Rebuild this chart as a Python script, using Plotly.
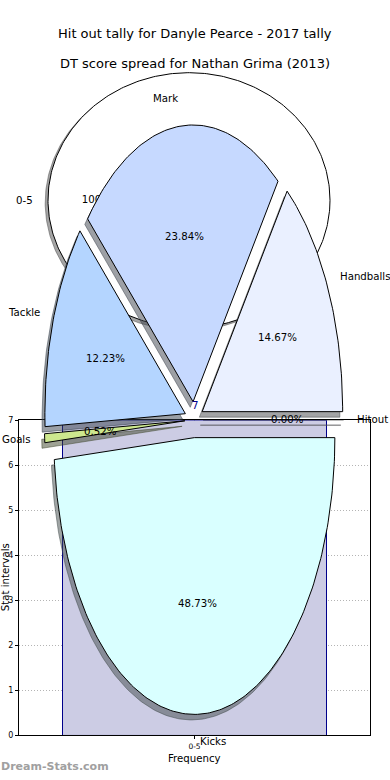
import numpy as np
import plotly.graph_objects as go

W, H = 390, 780

# ---------------- data ----------------
bar_categories = ["0-5"]
bar_values = [7]
y_ticks = [0, 1, 2, 3, 4, 5, 6, 7]

pie_labels = ["Handballs", "Mark", "Tackle", "Goals", "Kicks", "Hitout"]
pie_values = [14.67, 23.84, 12.23, 0.52, 48.73, 0.00]
pie_colors = ["#eaf0ff", "#c6d9ff", "#b4d5ff", "#cde88e", "#d9ffff", "#f0f0ff"]

inner_labels = ["0-5"]
inner_values = [100]
inner_colors = ["#ffffff"]

title_top = "Hit out tally for Danyle Pearce - 2017 tally"
title_sub = "DT score spread for Nathan Grima (2013)"

# ---------------- style ----------------
FONT = "DejaVu Sans"
LBL = 10.2
EXPLODE = 0.065
SHADOW_OFF = (-0.02, -0.02)
LABEL_DIST = 1.1
PCT_DIST = 0.6


def px_x(p):
    return p / W


def px_y(p):
    return 1 - p / H


def wedge_path(cx, cy, t1, t2):
    n = max(3, int(abs(t2 - t1) / 1.0) + 2)
    t = np.radians(np.linspace(t1, t2, n))
    if abs((t2 - t1) - 360) < 1e-9:
        return list(cx + np.cos(t)), list(cy + np.sin(t))
    xs = [cx] + list(cx + np.cos(t)) + [cx]
    ys = [cy] + list(cy + np.sin(t)) + [cy]
    return xs, ys


def shade(hexcol):
    h = hexcol.lstrip("#")
    r, g, b = (int(h[i:i + 2], 16) for i in (0, 2, 4))
    return "rgba(%d,%d,%d,0.5)" % (r * 0.3, g * 0.3, b * 0.3)


fig = go.Figure()
annotations = []

# ---------------- bar chart (xy) ----------------
fig.add_trace(go.Bar(
    x=[0], y=bar_values, width=0.8,
    marker=dict(color="#ccccE4", line=dict(color="#00008B", width=1)),
    xaxis="x", yaxis="y", showlegend=False, hoverinfo="skip",
))
annotations.append(dict(
    x=0, y=bar_values[0], xref="x", yref="y", text=str(bar_values[0]),
    showarrow=False, yanchor="bottom", yshift=8, borderpad=0,
    font=dict(family=FONT, size=LBL, color="#00008B"),
))

# ---------------- inner white pie (x2y2) ----------------
tot_in = sum(inner_values)
th = 0.0
for lab, val, col in zip(inner_labels, inner_values, inner_colors):
    t1, t2 = th, th + 360.0 * val / tot_in
    mid = np.radians((t1 + t2) / 2)
    xs, ys = wedge_path(0, 0, t1, t2)
    fig.add_trace(go.Scatter(
        x=[v + SHADOW_OFF[0] for v in xs], y=[v + SHADOW_OFF[1] for v in ys],
        fill="toself", fillcolor=shade(col), mode="lines",
        line=dict(color=shade(col), width=1),
        xaxis="x2", yaxis="y2", showlegend=False, hoverinfo="skip"))
    fig.add_trace(go.Scatter(
        x=xs, y=ys, fill="toself", fillcolor=col, mode="lines",
        line=dict(color="black", width=1),
        xaxis="x2", yaxis="y2", showlegend=False, hoverinfo="skip"))
    fig.add_trace(go.Scatter(
        x=[PCT_DIST * np.cos(mid)], y=[PCT_DIST * np.sin(mid)],
        mode="text", text=["%.2f%%" % (100.0 * val / tot_in)],
        textposition="middle center",
        textfont=dict(family=FONT, size=LBL, color="black"),
        xaxis="x2", yaxis="y2", showlegend=False, hoverinfo="skip"))
    lx, ly = LABEL_DIST * np.cos(mid), LABEL_DIST * np.sin(mid)
    annotations.append(dict(
        x=lx, y=ly, xref="x2", yref="y2", text=lab, showarrow=False,
        xanchor="left" if lx > 0 else "right", yanchor="middle", borderpad=0,
        font=dict(family=FONT, size=LBL, color="black")))
    th = t2

# ---------------- main exploded pie (x3y3) ----------------
tot = sum(pie_values)
th = 0.0
shadows, wedges = [], []
for lab, val, col in zip(pie_labels, pie_values, pie_colors):
    t1, t2 = th, th + 360.0 * val / tot
    mid = np.radians((t1 + t2) / 2)
    cx, cy = EXPLODE * np.cos(mid), EXPLODE * np.sin(mid)
    xs, ys = wedge_path(cx, cy, t1, t2)
    shadows.append(go.Scatter(
        x=[v + SHADOW_OFF[0] for v in xs], y=[v + SHADOW_OFF[1] for v in ys],
        fill="toself", fillcolor=shade(col), mode="lines",
        line=dict(color=shade(col), width=1),
        xaxis="x3", yaxis="y3", showlegend=False, hoverinfo="skip"))
    wedges.append(go.Scatter(
        x=xs, y=ys, fill="toself", fillcolor=col, mode="lines",
        line=dict(color="black", width=1),
        xaxis="x3", yaxis="y3", showlegend=False, hoverinfo="skip"))
    lx, ly = cx + LABEL_DIST * np.cos(mid), cy + LABEL_DIST * np.sin(mid)
    annotations.append(dict(
        x=lx, y=ly, xref="x3", yref="y3", text=lab, showarrow=False,
        xanchor="left" if lx > 0 else "right", yanchor="middle", borderpad=0,
        xshift=-1.5 if lx > 0 else 1.5,
        font=dict(family=FONT, size=LBL, color="black")))
    px_, py_ = cx + PCT_DIST * np.cos(mid), cy + PCT_DIST * np.sin(mid)
    annotations.append(dict(
        x=px_, y=py_, xref="x3", yref="y3", text="%.2f%%" % (100.0 * val / tot),
        showarrow=False, xanchor="center", yanchor="middle", borderpad=0,
        font=dict(family=FONT, size=LBL, color="black")))
    th = t2
for t in shadows + wedges:
    fig.add_trace(t)

# ---------------- titles / axis labels ----------------
annotations += [
    dict(x=px_x(194.5), y=px_y(30), xref="paper", yref="paper", text=title_top,
         showarrow=False, xanchor="center", yanchor="middle", borderpad=0,
         font=dict(family=FONT, size=13, color="black")),
    dict(x=px_x(194.5), y=px_y(60), xref="paper", yref="paper", text=title_sub,
         showarrow=False, xanchor="center", yanchor="middle", borderpad=0,
         font=dict(family=FONT, size=13, color="black")),
    dict(x=px_x(194.5), y=px_y(763), xref="paper", yref="paper", text="Frequency",
         showarrow=False, xanchor="center", yanchor="middle", borderpad=0,
         font=dict(family=FONT, size=LBL, color="black")),
    dict(x=px_x(5), y=px_y(580), xref="paper", yref="paper", text="Stat intervals",
         showarrow=False, xanchor="center", yanchor="middle", textangle=-90,
         borderpad=0, font=dict(family=FONT, size=LBL, color="black")),
    dict(x=0, y=px_y(771), xref="paper", yref="paper", text="<b>Dream-Stats.com</b>",
         showarrow=False, xanchor="left", yanchor="middle", borderpad=0,
         font=dict(family=FONT, size=11, color="#a0a0a0")),
]

# ---------------- layout ----------------
half_bar = 0.8 / (264.0 / 351.0) / 2
axis_common = dict(showline=True, linecolor="black", linewidth=1, mirror=True,
                   ticks="outside", ticklen=3, tickcolor="black",
                   showgrid=True, gridcolor="#b4b4b4", griddash="1px,2px", gridwidth=1,
                   zeroline=False)
hidden = dict(visible=False, showgrid=False, zeroline=False, fixedrange=True)

fig.update_layout(
    width=W, height=H, margin=dict(l=0, r=0, t=0, b=0),
    paper_bgcolor="white", plot_bgcolor="rgba(0,0,0,0)",
    showlegend=False, annotations=annotations,
    xaxis=dict(domain=[px_x(19), px_x(370)], range=[-half_bar, half_bar],
               tickvals=[0], ticktext=bar_categories, ticklabelstandoff=1,
               tickfont=dict(family=FONT, size=7.5, color="black"),
               anchor="y", **axis_common),
    yaxis=dict(domain=[px_y(740), px_y(421)], range=[0, 7], tickvals=y_ticks,
               tickfont=dict(family=FONT, size=8, color="black"),
               anchor="x", **axis_common),
    xaxis2=dict(domain=[px_x(189 - 141 * 1.25), px_x(189 + 141 * 1.25)],
                range=[-1.25, 1.25], anchor="y2", **hidden),
    yaxis2=dict(domain=[px_y(198.5 + 129 * 1.25), px_y(198.5 - 129 * 1.25)],
                range=[-1.25, 1.25], anchor="x2", **hidden),
    xaxis3=dict(domain=[px_x(194 - 140.5 * 1.25), px_x(194 + 140.5 * 1.25)],
                range=[-1.25, 1.25], anchor="y3", **hidden),
    yaxis3=dict(domain=[px_y(420.5 + 280 * 1.25), px_y(420.5 - 280 * 1.25)],
                range=[-1.25, 1.25], anchor="x3", **hidden),
)

fig.write_html("out.html")
